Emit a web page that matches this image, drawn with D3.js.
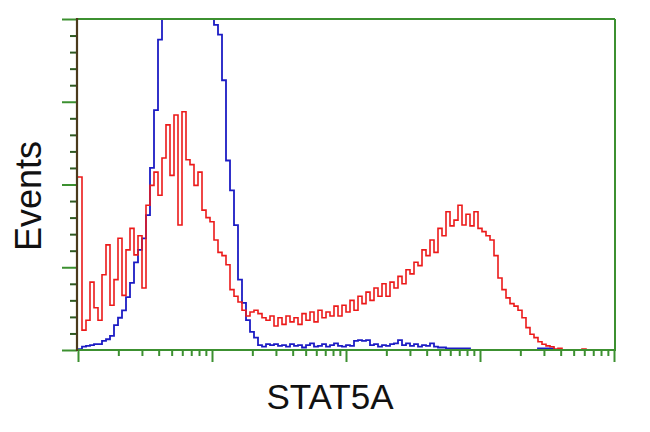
<!DOCTYPE html>
<html>
<head>
<meta charset="utf-8">
<script src="https://cdn.jsdelivr.net/npm/d3@7"></script>
<style>
html,body{margin:0;padding:0;background:#fff;}
svg{display:block;}
</style>
</head>
<body>
<svg id="chart" width="650" height="432"></svg>
<script>
// ---- data ----
const xLabel = "STAT5A";
const yLabel = "Events";
const xDecadeTicks = [1, 10, 100, 1000, 10000];
const yMajorTicks = [0, 100, 200, 300, 400];
const nBins = 134;

// control (blue) histogram counts per channel bin
const blueCounts = [
  1, 4, 5, 6, 7, 7, 11, 13, 17, 30,
  39, 48, 64, 81, 106, 121, 135, 163, 220, 290,
  375, 440, 470, 490, 500, 505, 505, 500, 495, 490,
  480, 465, 450, 430, 393, 381, 326, 229, 193, 151,
  85, 57, 36, 22, 15, 6, 4, 7, 6, 7,
  5, 6, 4, 7, 5, 6, 3, 6, 8, 4,
  5, 7, 4, 6, 8, 5, 4, 6, 5, 11,
  12, 11, 12, 6, 7, 4, 6, 5, 7, 8,
  12, 6, 8, 5, 7, 4, 6, 5, 8, 4,
  3, 3, 2, 2, 2, 2, 2, 2, 0, 0,
  0, 0, 0, 0, 0, 0, 0, 0, 0, 0,
  0, 0, 0, 0, 0, 2, 2, 2, 2, 0,
  0, 0, 0, 0, 0, 0, 0, 0, 0, 0,
  0, 0, 0, 0
];

// STAT5A stained (red) histogram counts per channel bin
const redCounts = [
  209, 24, 36, 82, 51, 36, 91, 127, 54, 85,
  135, 66, 121, 147, 115, 138, 75, 175, 199, 215,
  187, 232, 272, 211, 284, 151, 288, 230, 224, 199,
  215, 169, 160, 155, 133, 118, 114, 103, 73, 65,
  58, 48, 41, 46, 48, 44, 39, 36, 41, 29,
  39, 31, 41, 34, 39, 31, 44, 36, 46, 34,
  48, 39, 46, 41, 53, 41, 54, 46, 60, 48,
  65, 56, 70, 60, 75, 65, 80, 65, 82, 75,
  89, 80, 97, 92, 106, 102, 121, 114, 133, 118,
  147, 138, 167, 150, 157, 175, 151, 164, 150, 167,
  147, 143, 138, 133, 114, 87, 73, 63, 56, 53,
  48, 39, 27, 19, 15, 10, 7, 5, 4, 1,
  2, 0, 0, 0, 0, 0, 1, 0, 0, 0,
  0, 0, 0, 0
];

// ---- layout ----
const svg = d3.select("#chart");
const mLeft = 78, mRight = 614, mTop = 19, mBottom = 350;
const green = "#3c9030";

const x = d3.scaleLog().domain([1, 10000]).range([mLeft, mRight]);
const y = d3.scaleLinear().domain([0, 400]).range([mBottom, mTop]);

// channel bin edges (log-spaced grid across the 4 decades)
const edges = d3.range(nBins + 1).map(i => Math.pow(10, i * 4 / nBins));

svg.append("defs").append("clipPath").attr("id", "plotclip")
  .append("rect").attr("x", mLeft).attr("y", mTop)
  .attr("width", mRight - mLeft).attr("height", mBottom - mTop);

function stepLine(counts) {
  const pts = counts.map((c, i) => [edges[i], c]);
  pts.push([edges[counts.length], counts[counts.length - 1]]);
  return d3.line()
    .x(d => x(d[0]))
    .y(d => y(d[1]))
    .curve(d3.curveStepAfter)(pts);
}

const plot = svg.append("g").attr("clip-path", "url(#plotclip)");
plot.append("path").attr("d", stepLine(blueCounts))
  .attr("fill", "none").attr("stroke", "#1c1cc4").attr("stroke-width", 1.8);
plot.append("path").attr("d", stepLine(redCounts))
  .attr("fill", "none").attr("stroke", "#ec1a1a").attr("stroke-width", 1.6);

// frame
svg.append("line").attr("x1", mLeft - 1).attr("x2", mRight + 1).attr("y1", mTop).attr("y2", mTop)
  .attr("stroke", green).attr("stroke-width", 2);
svg.append("line").attr("x1", mRight + 1).attr("x2", mRight + 1).attr("y1", mTop).attr("y2", mBottom)
  .attr("stroke", green).attr("stroke-width", 2);

// x axis (log with minor ticks)
const xMinor = [];
for (let d = 0; d < 4; d++) for (let m = 2; m <= 9; m++) xMinor.push(m * Math.pow(10, d));
const xAxisMajor = d3.axisBottom(x).tickValues(xDecadeTicks).tickSize(12).tickFormat("");
const xAxisMinor = d3.axisBottom(x).tickValues(xMinor).tickSize(6).tickFormat("");
const gx = svg.append("g").attr("transform", `translate(0,${mBottom})`);
gx.append("g").call(xAxisMinor);
gx.append("g").call(xAxisMajor);
gx.selectAll(".domain").remove();
gx.selectAll("line").attr("stroke", green).attr("stroke-width", 2);
svg.append("line").attr("x1", mLeft - 1).attr("x2", mRight + 2).attr("y1", mBottom).attr("y2", mBottom)
  .attr("stroke", green).attr("stroke-width", 2);

// y axis (major + minor)
const yMinor = d3.range(0, 401, 20).filter(v => v % 100 !== 0);
const gy = svg.append("g").attr("transform", `translate(${mLeft - 1},0)`);
gy.append("g").call(d3.axisLeft(y).tickValues(yMinor).tickSize(7).tickFormat(""))
  .selectAll("line").attr("stroke", "#2f5a22").attr("stroke-width", 2);
gy.append("g").call(d3.axisLeft(y).tickValues(yMajorTicks).tickSize(15).tickFormat(""))
  .selectAll("line").attr("stroke", green).attr("stroke-width", 2);
gy.selectAll(".domain").remove();
svg.append("line").attr("x1", mLeft - 1).attr("x2", mLeft - 1).attr("y1", mTop - 1).attr("y2", mBottom + 1)
  .attr("stroke", "#4b3a1c").attr("stroke-width", 2.2);

// labels
svg.append("text").attr("x", 330).attr("y", 409)
  .attr("text-anchor", "middle")
  .style("font-family", "'Liberation Sans', Arial, sans-serif")
  .style("font-size", "35px").attr("fill", "#111").text(xLabel);
svg.append("text").attr("transform", "translate(41,196) rotate(-90)")
  .attr("text-anchor", "middle")
  .style("font-family", "'Liberation Sans', Arial, sans-serif")
  .style("font-size", "36px").attr("fill", "#111").text(yLabel);
</script>
</body>
</html>
